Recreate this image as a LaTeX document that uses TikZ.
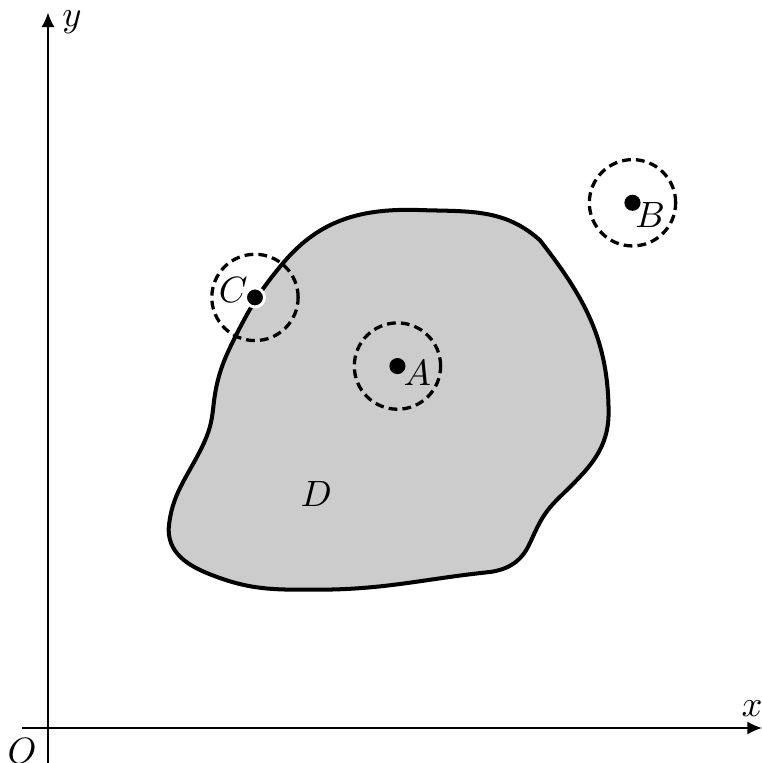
\documentclass[tikz,border=0pt]{standalone}
\usepackage{amsmath}
\usetikzlibrary{arrows.meta,positioning}

\begin{document}
\begin{tikzpicture}[
    axis/.style={-{Latex[length=4pt,width=3.6pt]}, line width=0.55pt},
    region/.style={draw, fill=black!20, line width=1.1pt},
    ball/.style={
        draw,
        circle,
        dash pattern=on 2.4pt off 1.4pt,
        line width=0.9pt,
        minimum size=0.83cm,
        inner sep=0pt
    },
    pt/.style={circle, fill=black, inner sep=0pt, minimum size=0.155cm},
    lbl/.style={inner sep=0pt}
]
\useasboundingbox (-0.4615,-0.3365) rectangle (6.865,7.0);

\coordinate (O) at (0,0);
\coordinate (xl) at (-0.25,0);
\coordinate (xr) at (6.865,0);
\coordinate (yb) at (0,-0.34);
\coordinate (yt) at (0,6.88);

% the region D
\draw[region] (1.59,3.09)
  to[out=84,in=-117] (1.82,3.80)
  to[out=63,in=-130] (2.26,4.47)
  to[out=50,in=178] (3.58,4.98)
  to[out=-2,in=138] (4.73,4.69)
  to[out=-52,in=90] (5.39,3.03)
  to[out=-90,in=45] (4.89,2.19)
  to[out=-135,in=65] (4.63,1.77)
  to[out=-115,in=8] (4.25,1.50)
  to[out=186,in=0] (2.59,1.33)
  to[out=180,in=-20] (1.63,1.45)
  to[out=160,in=-90] (1.16,1.91)
  to[out=86,in=-116] (1.48,2.70)
  to[out=64,in=-96] cycle;

\node[lbl] (labD) at (2.58,2.25) {$D$};

% neighbourhoods
\node[ball] (ballA) at (3.36,3.48) {};
\node[ball] (ballB) at (5.62,5.05) {};
\node[ball] (ballC) at (1.99,4.14) {};

\node[pt] (A) at (ballA.center) {};
\node[pt] (B) at (ballB.center) {};
\node[pt, draw=white, line width=0.8pt, minimum size=0.183cm] (C) at (ballC.center) {};

\node[lbl] (labA) at (3.55,3.41) {$A$};
\node[lbl] (labB) at (5.79,4.93) {$B$};
\node[lbl] (labC) at (1.78,4.21) {$C$};

% axes
\draw[axis] (xl) -- (xr);
\draw[axis] (yb) -- (yt);
\node[lbl] (labx) at (6.77,0.19) {$x$};
\node[lbl] (laby) at (0.23,6.79) {$y$};
\node[lbl] (labO) at (-0.25,-0.22) {$O$};
\end{tikzpicture}
\end{document}
